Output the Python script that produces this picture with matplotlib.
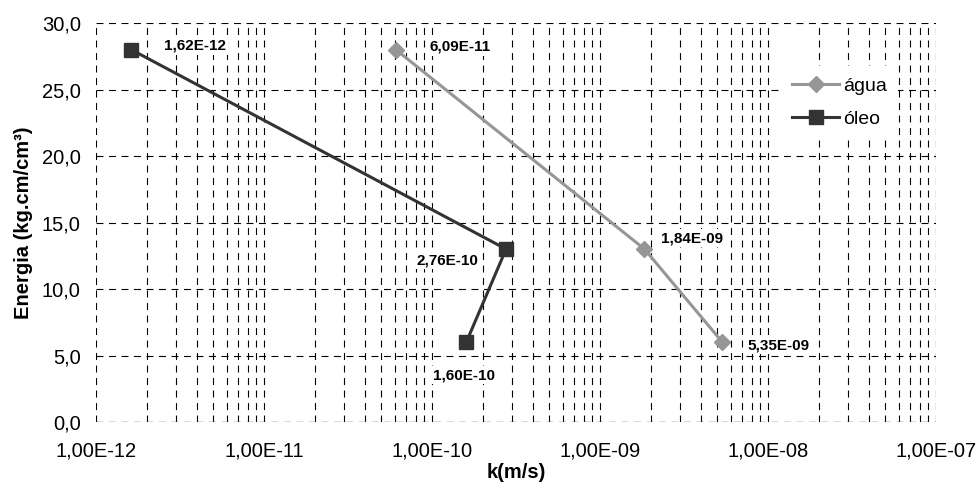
import numpy as np
import matplotlib
matplotlib.use("Agg")
import matplotlib.pyplot as plt
from matplotlib.ticker import FuncFormatter, FixedLocator, MultipleLocator, NullFormatter

plt.rcParams["font.family"] = ["Liberation Sans", "DejaVu Sans"]
plt.rcParams["lines.scale_dashes"] = False

# data
agua_k = [6.09e-11, 1.84e-9, 5.35e-9]
agua_e = [28.0, 13.0, 6.0]
oleo_k = [1.62e-12, 2.76e-10, 1.60e-10]
oleo_e = [28.0, 13.0, 6.0]
agua_labels = ["6,09E-11", "1,84E-09", "5,35E-09"]
oleo_labels = ["1,62E-12", "2,76E-10", "1,60E-10"]
decades = [1e-12, 1e-11, 1e-10, 1e-9, 1e-8, 1e-7]

fig = plt.figure(figsize=(9.78, 4.86), dpi=100)
ax = fig.add_axes([96 / 978, 1 - 422 / 486, 840 / 978, 399 / 486])

ax.set_xscale("log")
ax.set_xlim(decades[0], decades[-1])
ax.set_ylim(0, 30)

minors = [d * m for d in decades[:-1] for m in range(2, 10)]
dash = (0, (5, 4))
ax.xaxis.set_major_locator(FixedLocator(decades))
ax.xaxis.set_minor_locator(FixedLocator(minors))
ax.yaxis.set_major_locator(MultipleLocator(5))
ax.grid(True, which="both", axis="x", color="black", linestyle=dash, linewidth=0.8)
ax.grid(True, which="major", axis="y", color="black", linestyle=dash, linewidth=0.8)
for s in ax.spines.values():
    s.set_visible(False)
ax.axhline(0, color="#808080", linestyle=dash, linewidth=1.0, zorder=1)
ax.axvline(1e-7, color="#606060", linestyle=dash, linewidth=0.8, zorder=1)
ax.set_axisbelow(True)

ax.xaxis.set_major_formatter(FuncFormatter(lambda v, p: f"{v:.2E}".replace(".", ",")))
ax.xaxis.set_minor_formatter(NullFormatter())
ax.yaxis.set_major_formatter(FuncFormatter(lambda v, p: f"{v:.1f}".replace(".", ",")))
ax.tick_params(axis="both", which="both", length=0, labelsize=14.5)
ax.tick_params(axis="x", pad=14)
ax.tick_params(axis="y", pad=11)

ax.plot(agua_k, agua_e, color="#969696", linewidth=2.2, marker="D",
        markersize=8, label="água", zorder=3)
ax.plot(oleo_k, oleo_e, color="#333333", linewidth=2.2, marker="s",
        markersize=10, label="óleo", zorder=3)

# value labels (white box hides the grid behind them)
box = dict(boxstyle="square,pad=0.15", facecolor="white", edgecolor="none")
agua_off = [(34, 3, "left"), (17, 11, "left"), (25, -3, "left")]
oleo_off = [(33, 4, "left"), (-28, -11, "right"), (-33, -33, "left")]
for k, e, t, (dx, dy, ha) in zip(agua_k, agua_e, agua_labels, agua_off):
    ax.annotate(t, xy=(k, e), xytext=(dx, dy), textcoords="offset pixels",
                ha=ha, va="center", fontsize=11, fontweight="bold", bbox=box, zorder=2)
for k, e, t, (dx, dy, ha) in zip(oleo_k, oleo_e, oleo_labels, oleo_off):
    ax.annotate(t, xy=(k, e), xytext=(dx, dy), textcoords="offset pixels",
                ha=ha, va="center", fontsize=11, fontweight="bold", bbox=box, zorder=2)

ax.set_xlabel("k(m/s)", fontsize=14.5, fontweight="bold", labelpad=2)
ax.set_ylabel("Energia (kg.cm/cm³)", fontsize=14.5, fontweight="bold", labelpad=6)

leg = ax.legend(loc="center", bbox_to_anchor=(0.885, 0.80), fontsize=14,
                frameon=True, facecolor="white", edgecolor="none", framealpha=1,
                handlelength=2.4, labelspacing=0.8, handletextpad=0.2,
                borderpad=0.6, fancybox=False)

fig.savefig("out.png", dpi=100)
